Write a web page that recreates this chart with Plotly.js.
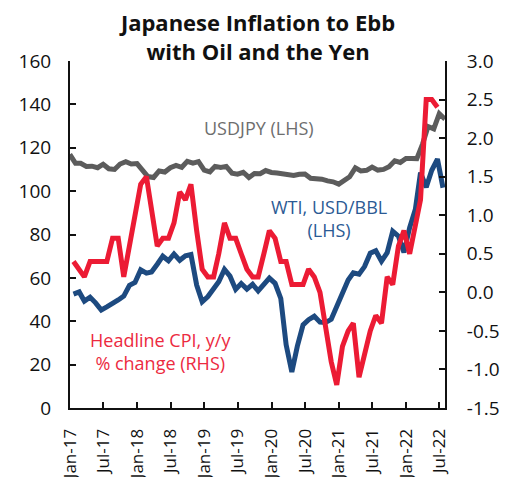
<!DOCTYPE html>
<html>
<head>
<meta charset="utf-8">
<script src="https://cdn.plot.ly/plotly-3.0.1.min.js"></script>
<style>
html,body{margin:0;padding:0;background:#fff;}
#chart{width:516px;height:477px;}
</style>
</head>
<body>
<div id="chart"></div>
<script>
// USD/JPY, end of month (Dec-16 .. Jul-22)
var usdjpyStart = '2016-12';
var usdjpy = [116.9,
  112.8,112.8,111.4,111.5,110.8,112.4,110.3,110.0,112.5,113.6,112.5,112.7,
  109.2,106.7,106.3,109.3,108.8,110.8,111.9,111.0,113.7,112.9,113.6,109.7,
  108.9,111.4,110.9,111.4,108.3,107.8,108.7,106.3,108.1,108.0,109.5,108.6,
  108.4,107.9,107.5,107.2,107.8,107.9,105.9,105.9,105.5,104.7,104.3,103.2,
  104.7,106.6,110.7,109.3,109.6,111.1,109.7,110.0,111.3,114.0,113.2,115.1,
  115.1,115.0,121.7,129.8,128.7,135.7,133.2];
// WTI, USD/BBL (Jan-17 .. Jul-22)
var wtiStart = '2017-01';
var wti = [52.5,53.5,49.3,51.1,48.5,45.2,46.6,48.0,49.8,51.6,56.6,57.9,
  63.7,62.2,62.7,66.3,70.0,67.9,71.0,68.1,70.2,70.8,56.7,49.0,
  51.4,55.0,58.2,63.9,60.8,54.7,57.4,54.8,57.0,54.0,57.0,59.9,
  57.5,50.5,29.2,16.6,28.5,38.3,40.7,42.3,39.6,39.4,40.9,47.0,
  52.0,59.0,62.3,61.7,65.2,71.4,72.5,67.7,71.6,81.5,79.2,71.7,
  83.2,91.6,108.5,101.8,109.6,114.8,101.6];
// Headline CPI y/y % (Jan-17 .. Jun-22)
var cpiStart = '2017-01';
var cpi = [0.4,0.3,0.2,0.4,0.4,0.4,0.4,0.7,0.7,0.2,0.6,1.0,
  1.4,1.5,1.1,0.6,0.7,0.7,0.9,1.3,1.2,1.4,0.8,0.3,
  0.2,0.2,0.5,0.9,0.7,0.7,0.5,0.3,0.2,0.2,0.5,0.8,
  0.7,0.4,0.4,0.1,0.1,0.1,0.3,0.2,0.0,-0.4,-0.9,-1.2,
  -0.7,-0.5,-0.4,-1.1,-0.8,-0.5,-0.3,-0.4,0.2,0.1,0.6,0.8,
  0.5,0.9,1.2,2.5,2.5,2.4];

var xTickVals = ['2017-01-01','2017-07-01','2018-01-01','2018-07-01','2019-01-01','2019-07-01',
  '2020-01-01','2020-07-01','2021-01-01','2021-07-01','2022-01-01','2022-07-01'];
var xTickText = ['Jan-17','Jul-17','Jan-18','Jul-18','Jan-19','Jul-19',
  'Jan-20','Jul-20','Jan-21','Jul-21','Jan-22','Jul-22'];
var yLeftTicks = [0,20,40,60,80,100,120,140,160];
var yRightVals = [-1.5,-1.0,-0.5,0,0.5,1.0,1.5,2.0,2.5,3.0];
var yRightText = ['-1.5','-1.0','-0.5','0.0','0.5','1.0','1.5','2.0','2.5','3.0'];

function monthDates(start, n, day) {
  var p = start.split('-'); var y = +p[0], m = +p[1];
  var out = [];
  for (var i = 0; i < n; i++) {
    var yy = y + Math.floor((m - 1 + i) / 12);
    var mm = ((m - 1 + i) % 12) + 1;
    var d = day;
    if (day === 'end') { d = new Date(Date.UTC(yy, mm, 0)).getUTCDate(); }
    out.push(yy + '-' + (mm < 10 ? '0' : '') + mm + '-' + (d < 10 ? '0' : '') + d);
  }
  return out;
}

var FONT = 'Open Sans, sans-serif';
var traces = [
  {x: monthDates(usdjpyStart, usdjpy.length, 'end'), y: usdjpy, type: 'scatter', mode: 'lines',
   line: {color: '#5c5c5c', width: 5}, yaxis: 'y', hoverinfo: 'skip'},
  {x: monthDates(wtiStart, wti.length, 20), y: wti, type: 'scatter', mode: 'lines',
   line: {color: '#1d4a80', width: 5}, yaxis: 'y', hoverinfo: 'skip'},
  {x: monthDates(cpiStart, cpi.length, 20), y: cpi, type: 'scatter', mode: 'lines',
   line: {color: '#ec1b34', width: 5}, yaxis: 'y2', hoverinfo: 'skip'}
];

var axisCommon = {
  showline: true, linecolor: '#111', linewidth: 2, showgrid: false, zeroline: false,
  ticks: 'inside', ticklen: 6, tickwidth: 2, tickcolor: '#111',
  tickfont: {family: FONT, size: 19, color: '#111'}
};

var layout = {
  width: 516, height: 477,
  margin: {l: 70, r: 71, t: 61, b: 69},
  paper_bgcolor: '#fff', plot_bgcolor: '#fff',
  showlegend: false,
  font: {family: FONT},
  title: {text: 'Japanese Inflation to Ebb<br>with Oil and the Yen',
    font: {family: FONT, size: 22, color: '#111', weight: 'bold'},
    x: 0.5, xref: 'container', xanchor: 'center', y: 0.935, yref: 'container', yanchor: 'top'},
  xaxis: Object.assign({}, axisCommon, {
    type: 'date', range: ['2017-01-01', '2022-07-31'],
    tickmode: 'array', tickvals: xTickVals, ticktext: xTickText, tickangle: -90,
    ticklabelstandoff: 12,
    tickfont: {family: FONT, size: 17, color: '#111'}
  }),
  yaxis: Object.assign({}, axisCommon, {
    range: [0, 160], tickmode: 'array', tickvals: yLeftTicks, ticklabelstandoff: 13
  }),
  yaxis2: Object.assign({}, axisCommon, {
    range: [-1.5, 3.0], overlaying: 'y', side: 'right',
    tickmode: 'array', tickvals: yRightVals, ticktext: yRightText, ticklabelstandoff: 16
  }),
  annotations: [
    {text: 'USDJPY (LHS)', xref: 'paper', yref: 'paper', x: 0.505, y: 0.807,
     xanchor: 'center', yanchor: 'middle',
     showarrow: false, font: {family: FONT, size: 18, color: '#6e6e6e'}},
    {text: 'WTI, USD/BBL<br>(LHS)', xref: 'paper', yref: 'paper', x: 0.69, y: 0.545,
     xanchor: 'center', yanchor: 'middle',
     showarrow: false, font: {family: FONT, size: 18, color: '#2b5a94'}},
    {text: 'Headline CPI, y/y<br>% change (RHS)', xref: 'paper', yref: 'paper', x: 0.24, y: 0.162,
     xanchor: 'center', yanchor: 'middle',
     showarrow: false, font: {family: FONT, size: 18, color: '#ec2a3f'}}
  ]
};

Plotly.newPlot('chart', traces, layout, {displayModeBar: false, staticPlot: true});
</script>
</body>
</html>
